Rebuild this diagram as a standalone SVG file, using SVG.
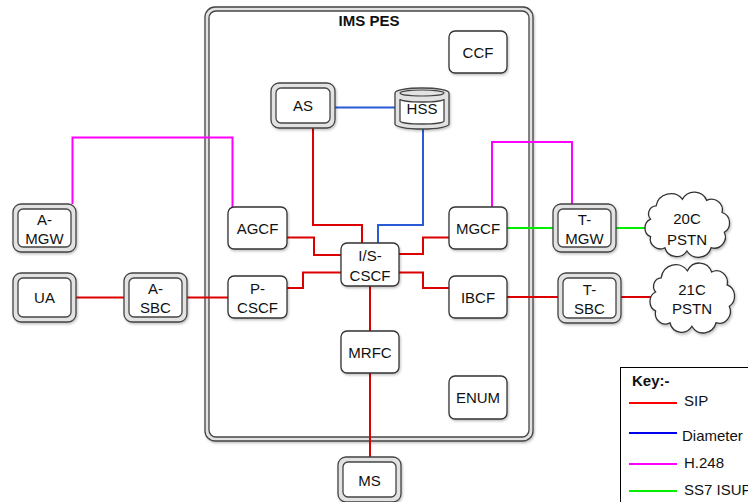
<svg xmlns="http://www.w3.org/2000/svg" width="748" height="502" viewBox="0 0 748 502">
<defs>
<filter id="sh" x="-20%" y="-20%" width="140%" height="140%">
<feDropShadow dx="1" dy="1.5" stdDeviation="1.2" flood-color="#000" flood-opacity="0.25"/>
</filter>
<path id="cloud" d="M14,16 A13.6,13.6 0 0 1 38,10 A12.1,12.1 0 0 1 60,11 A9.8,9.8 0 0 1 74,22 A10,10 0 0 1 76,40 A10.1,10.1 0 0 1 64,54 A12.2,12.2 0 0 1 42,57 A11.1,11.1 0 0 1 22,54 A9,9 0 0 1 9,44 A8.8,8.8 0 0 1 9,28 A7.2,7.2 0 0 1 14,16 Z" vector-effect="non-scaling-stroke"/>
</defs>
<style>
text{font-family:"Liberation Sans",Arial,Helvetica,sans-serif;font-size:15px;fill:#111;text-anchor:middle}
.box{fill:#fff;stroke:#333;stroke-width:1.3}
.outer{fill:#e2e2e2;stroke:#444;stroke-width:1.3}
.inner{fill:#fff;stroke:#444;stroke-width:1.3}
.c{fill:none;stroke-width:2}
.sip{stroke:#dd0000}
.dia{stroke:#2a5bd7}
.h248{stroke:#ff00ff}
.ss7{stroke:#00ee00}
.key{text-anchor:start}
</style>
<rect width="748" height="502" fill="#fff"/>

<g id="ims-pes">
<rect x="205" y="7" width="328" height="434" rx="10" class="outer" filter="url(#sh)"/>
<rect x="209" y="11" width="320" height="426" rx="7" class="inner"/>
<text x="369" y="26" style="font-weight:bold">IMS PES</text>
</g>

<g id="connectors">
<path class="c sip" d="M76,297.5 H124"/>
<path class="c sip" d="M187,297.5 H228"/>
<path class="c sip" d="M287,237.5 H314 V255 H341"/>
<path class="c sip" d="M287,288 H303 V272.5 H341"/>
<path class="c sip" d="M399,254 H423 V237.5 H449"/>
<path class="c sip" d="M399,272.5 H423 V288 H449"/>
<path class="c sip" d="M313,128 V225 H362 V243"/>
<path class="c sip" d="M370,286 V331"/>
<path class="c sip" d="M370,373 V457"/>
<path class="c sip" d="M507,297 H558"/>
<path class="c sip" d="M621,297 H653"/>
<path class="c dia" d="M335,107.5 H395"/>
<path class="c dia" d="M423,128 V225 H378 V243"/>
<path class="c h248" d="M72.5,204 V137.5 H232.5 V207"/>
<path class="c h248" d="M492,207 V142 H572 V204"/>
<path class="c ss7" d="M507,228 H553"/>
<path class="c ss7" d="M616,228 H648"/>
</g>

<g id="ccf"><rect x="449" y="31" width="58" height="42" rx="6" class="box" filter="url(#sh)"/><text x="478" y="57.5">CCF</text></g>

<g id="as"><rect x="271" y="83" width="64" height="45" rx="8" class="outer" filter="url(#sh)"/><rect x="276" y="88" width="54" height="35" rx="5" class="inner"/><text x="303" y="111">AS</text></g>

<g id="hss">
<path d="M395,93 A27,5 0 0 1 449,93 V124 A27,5 0 0 1 395,124 Z" class="outer" filter="url(#sh)"/>
<ellipse cx="422" cy="93" rx="22" ry="3" fill="none" stroke="#444" stroke-width="1.2"/>
<path d="M400,99 A22,3 0 0 0 444,99 V121 A22,3 0 0 1 400,121 Z" class="inner"/>
<text x="422" y="113.5">HSS</text>
</g>

<g id="agcf"><rect x="228" y="207" width="59" height="42" rx="6" class="box" filter="url(#sh)"/><text x="257.5" y="233.5">AGCF</text></g>
<g id="p-cscf"><rect x="228" y="276" width="59" height="42" rx="6" class="box" filter="url(#sh)"/><text x="257.5" y="293.5">P-</text><text x="257.5" y="313">CSCF</text></g>
<g id="is-cscf"><rect x="341" y="243" width="58" height="43" rx="6" class="box" filter="url(#sh)"/><text x="370" y="261">I/S-</text><text x="370" y="281">CSCF</text></g>
<g id="mgcf"><rect x="449" y="207" width="58" height="42" rx="6" class="box" filter="url(#sh)"/><text x="478" y="233.5">MGCF</text></g>
<g id="ibcf"><rect x="449" y="276" width="58" height="42" rx="6" class="box" filter="url(#sh)"/><text x="478" y="302.5">IBCF</text></g>
<g id="mrfc"><rect x="341" y="331" width="58" height="42" rx="6" class="box" filter="url(#sh)"/><text x="370" y="357.5">MRFC</text></g>
<g id="enum"><rect x="449" y="376" width="58" height="43" rx="6" class="box" filter="url(#sh)"/><text x="478" y="403">ENUM</text></g>

<g id="ms"><rect x="338" y="457" width="63" height="45" rx="8" class="outer" filter="url(#sh)"/><rect x="343" y="462" width="53" height="35" rx="5" class="inner"/><text x="369.5" y="486">MS</text></g>

<g id="a-mgw"><rect x="13" y="204" width="63" height="48" rx="8" class="outer" filter="url(#sh)"/><rect x="18" y="209" width="53" height="38" rx="5" class="inner"/><text x="44.5" y="224.5">A-</text><text x="44.5" y="244">MGW</text></g>
<g id="ua"><rect x="13" y="273" width="63" height="49" rx="8" class="outer" filter="url(#sh)"/><rect x="18" y="278" width="53" height="39" rx="5" class="inner"/><text x="44.5" y="303">UA</text></g>
<g id="a-sbc"><rect x="124" y="273" width="63" height="49" rx="8" class="outer" filter="url(#sh)"/><rect x="129" y="278" width="53" height="39" rx="5" class="inner"/><text x="155.5" y="293.5">A-</text><text x="155.5" y="313">SBC</text></g>
<g id="t-mgw"><rect x="553" y="204" width="63" height="48" rx="8" class="outer" filter="url(#sh)"/><rect x="558" y="209" width="53" height="38" rx="5" class="inner"/><text x="584.5" y="224.5">T-</text><text x="584.5" y="244">MGW</text></g>
<g id="t-sbc"><rect x="558" y="273" width="63" height="50" rx="8" class="outer" filter="url(#sh)"/><rect x="563" y="278" width="53" height="40" rx="5" class="inner"/><text x="589.5" y="294.5">T-</text><text x="589.5" y="314">SBC</text></g>

<g id="pstn-20c"><use href="#cloud" transform="translate(640.7,188.3) scale(1.1)" fill="#fff" stroke="#333" stroke-width="1.3" filter="url(#sh)"/><text x="687" y="224">20C</text><text x="687" y="245">PSTN</text></g>
<g id="pstn-21c"><use href="#cloud" transform="translate(645.7,259) scale(1.1,1.18)" fill="#fff" stroke="#333" stroke-width="1.3" filter="url(#sh)"/><text x="692" y="295">21C</text><text x="692" y="313.5">PSTN</text></g>

<g id="key">
<rect x="620.5" y="367.5" width="140" height="140" fill="#fff" stroke="#000" stroke-width="1"/>
<text x="632" y="386" class="key" style="font-weight:bold">Key:-</text>
<path d="M629,403 H677" stroke="#ff0000" stroke-width="2"/>
<text x="684" y="406" class="key">SIP</text>
<path d="M629,433 H677" stroke="#0000ee" stroke-width="2"/>
<text x="682" y="441" class="key">Diameter</text>
<path d="M629,464 H677" stroke="#ff00ff" stroke-width="2"/>
<text x="684" y="467.5" class="key">H.248</text>
<path d="M629,491 H677" stroke="#00ee00" stroke-width="2"/>
<text x="684" y="494.5" class="key">SS7 ISUP</text>
</g>
</svg>
